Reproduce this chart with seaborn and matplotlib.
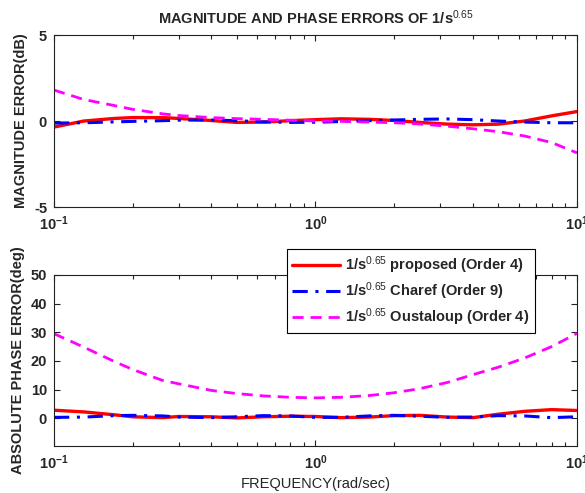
import numpy as np
import pandas as pd
import matplotlib
matplotlib.use("Agg")
import matplotlib.pyplot as plt
from matplotlib.ticker import LogLocator, NullFormatter
import seaborn as sns

# Frequency grid (rad/sec)
freq = [0.1, 0.13, 0.17, 0.2, 0.26, 0.3, 0.4, 0.5, 0.63, 0.8, 1.0,
        1.25, 1.6, 2.0, 2.5, 3.2, 4.0, 5.0, 6.3, 8.0, 10.0]

# Magnitude errors (dB)
mag_proposed = [-0.35, 0.0, 0.15, 0.2, 0.2, 0.15, 0.03, -0.08, -0.06, 0.02, 0.08,
                0.13, 0.1, 0.03, -0.08, -0.18, -0.22, -0.18, 0.0, 0.3, 0.55]
mag_charef = [-0.12, -0.1, -0.05, -0.02, 0.02, 0.05, 0.06, 0.02, -0.05, -0.08, -0.07,
              -0.03, 0.02, 0.06, 0.1, 0.12, 0.08, 0.0, -0.06, -0.1, -0.1]
mag_oustaloup = [1.8, 1.25, 0.9, 0.68, 0.42, 0.32, 0.2, 0.14, 0.1, 0.05, 0.0,
                 -0.02, -0.06, -0.1, -0.17, -0.3, -0.45, -0.62, -0.87, -1.25, -1.85]

# Absolute phase errors (deg)
ph_proposed = [2.8, 2.2, 1.2, 0.5, 0.2, 0.6, 0.5, 0.1, 0.5, 0.7, 0.6,
               0.2, 0.4, 0.9, 1.0, 0.4, 0.2, 1.4, 2.4, 3.0, 2.7]
ph_charef = [0.3, 0.4, 0.9, 1.0, 0.8, 0.4, 0.2, 0.5, 0.9, 0.8, 0.3,
             0.3, 0.8, 1.0, 0.7, 0.3, 0.4, 0.9, 0.8, 0.2, 0.5]
ph_oustaloup = [29.5, 24.8, 19.8, 17.0, 13.2, 12.0, 9.7, 8.6, 7.8, 7.3, 7.1,
                7.3, 7.9, 8.9, 10.3, 12.5, 15.2, 17.8, 21.0, 25.0, 29.6]

series_labels = [r"1/s$^{0.65}$ proposed (Order 4)",
                 r"1/s$^{0.65}$ Charef (Order 9)",
                 r"1/s$^{0.65}$ Oustaloup (Order 4)"]
xtick_values = [0.1, 1, 10]
xtick_labels = [r"$\mathbf{10^{-1}}$", r"$\mathbf{10^{0}}$", r"$\mathbf{10^{1}}$"]
mag_ticks = [-5, 0, 5]
ph_ticks = [0, 10, 20, 30, 40, 50]

sns.set_style("white")
plt.rcParams["font.family"] = ["Liberation Sans", "DejaVu Sans"]
plt.rcParams["mathtext.fontset"] = "custom"
plt.rcParams["mathtext.rm"] = "Liberation Sans"
plt.rcParams["mathtext.bf"] = "Liberation Sans:bold"
plt.rcParams["mathtext.it"] = "Liberation Sans:italic"

styles = [dict(color="#ff0000", linestyle="-", linewidth=2.4),
          dict(color="#0000ff", linestyle=(0, (5, 2.5, 1, 2.5)), linewidth=2.2),
          dict(color="#ff00ff", linestyle=(0, (4, 2.5)), linewidth=2.0)]

fig = plt.figure(figsize=(5.85, 4.93), dpi=100)
ax1 = fig.add_axes([0.0923, 0.580, 0.894, 0.349])
ax2 = fig.add_axes([0.0923, 0.0953, 0.894, 0.347])

mag_df = pd.DataFrame({"freq": freq, "p": mag_proposed, "c": mag_charef, "o": mag_oustaloup})
ph_df = pd.DataFrame({"freq": freq, "p": ph_proposed, "c": ph_charef, "o": ph_oustaloup})

for ax, df in ((ax1, mag_df), (ax2, ph_df)):
    for col, lab, st in zip(["p", "c", "o"], series_labels, styles):
        sns.lineplot(data=df, x="freq", y=col, ax=ax, label=lab, legend=False, **st)

for ax in (ax1, ax2):
    ax.set_xscale("log")
    ax.set_xlim(0.1, 10)
    ax.set_xticks(xtick_values)
    ax.set_xticklabels(xtick_labels)
    ax.xaxis.set_minor_locator(LogLocator(base=10, subs=np.arange(2, 10), numticks=20))
    ax.xaxis.set_minor_formatter(NullFormatter())
    ax.tick_params(which="both", direction="in", bottom=True, left=True,
                   top=True, right=True, labelsize=10.5, pad=5, color="#222222")
    ax.tick_params(which="major", length=4, width=0.8)
    ax.tick_params(which="minor", length=3, width=0.8)
    for sp in ax.spines.values():
        sp.set_color("#222222")
        sp.set_linewidth(0.8)
    ax.set_xlabel("")

ax1.set_ylim(-5, 5)
ax1.set_yticks(mag_ticks)
ax1.set_yticklabels([str(t) for t in mag_ticks], fontweight="bold")
ax1.set_ylabel("MAGNITUDE ERROR(dB)", fontsize=10.5, fontweight="bold", labelpad=4)
ax1.set_title(r"MAGNITUDE AND PHASE ERRORS OF 1/s$^{0.65}$", fontsize=10.5,
              fontweight="bold", pad=8)

ax2.set_ylim(-9.7, 50)
ax2.set_yticks(ph_ticks)
ax2.set_yticklabels([str(t) for t in ph_ticks], fontweight="bold")
ax2.set_ylabel("ABSOLUTE PHASE ERROR(deg)", fontsize=10.5, fontweight="bold", labelpad=4)
ax2.set_xlabel("FREQUENCY(rad/sec)", fontsize=10.5, labelpad=4)

handles, labels = ax2.get_legend_handles_labels()
leg = ax2.legend(handles, labels, loc="upper left",
                 bbox_to_anchor=(287 / 585, 1 - 249 / 493), bbox_transform=fig.transFigure,
                 prop={"weight": "bold", "size": 10.5}, frameon=True, fancybox=False,
                 edgecolor="black", framealpha=1, borderaxespad=0,
                 handlelength=3.3, handletextpad=0.35, labelspacing=0.3,
                 borderpad=0.35)
leg.get_frame().set_linewidth(0.8)
leg.set_zorder(10)
ax2.set_zorder(5)

fig.savefig("out.png", dpi=100)
